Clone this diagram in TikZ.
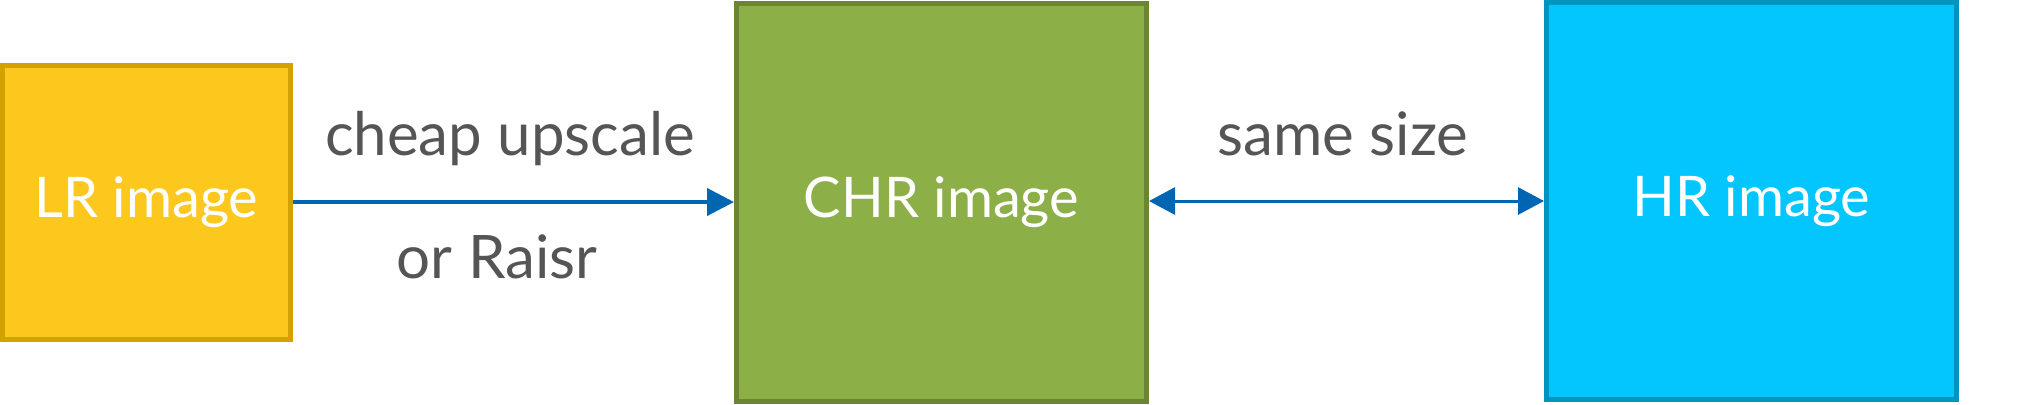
\documentclass[tikz,border=0pt]{standalone}
\usepackage{fontspec}
\setmainfont{Lato}
\usetikzlibrary{arrows.meta}

\definecolor{lrFill}{HTML}{FCC81E}
\definecolor{lrDraw}{HTML}{D4A200}
\definecolor{chrFill}{HTML}{8CAF47}
\definecolor{chrDraw}{HTML}{6B8535}
\definecolor{hrFill}{HTML}{02C6FD}
\definecolor{hrDraw}{HTML}{0095BF}
\definecolor{flow}{HTML}{0066B3}
\definecolor{note}{HTML}{555555}

\begin{document}
\begin{tikzpicture}[
	x=0.5pt, y=-0.5pt,
	img box/.style = {draw, line width=2.5pt, rectangle, text=white, font=\fontsize{28}{30}\selectfont, inner sep=0pt},
	label/.style = {text=note, font=\fontsize{30}{32}\selectfont, anchor=base, inner sep=0pt},
	edge/.style = {draw=flow, -{Triangle[length=13.5pt, width=13.5pt]}},
]

	%% Fix the margins
	\useasboundingbox (0,0) rectangle (2039,404);

	%% The three images
	\node [img box, draw=lrDraw, fill=lrFill, minimum width=144pt, minimum height=137pt] at (146.5,202.5) (lr) {LR image};
	\node [img box, draw=chrDraw, fill=chrFill, minimum width=205pt, minimum height=199pt] at (941.5,202.5) (chr) {CHR image};
	\node [img box, draw=hrDraw, fill=hrFill, minimum width=205pt, minimum height=198.5pt] at (1751.5,201) (hr) {HR\ image};

	%% The connections
	\draw [edge, line width=2pt] (lr.east |- 0,202) to (chr.west |- 0,202);
	\draw [edge, {Triangle[length=13pt, width=13.5pt]}-{Triangle[length=13pt, width=13.5pt]}, line width=1.5pt] (chr.east |- 0,201) to (hr.west |- 0,201);

	%% Labels on the connections
	\node [label] at (510,155) (up) {cheap upscale};
	\node [label] at (497,278) (raisr) {or Raisr};
	\node [label] at (1343,155) (same) {same size};

\end{tikzpicture}
\end{document}
